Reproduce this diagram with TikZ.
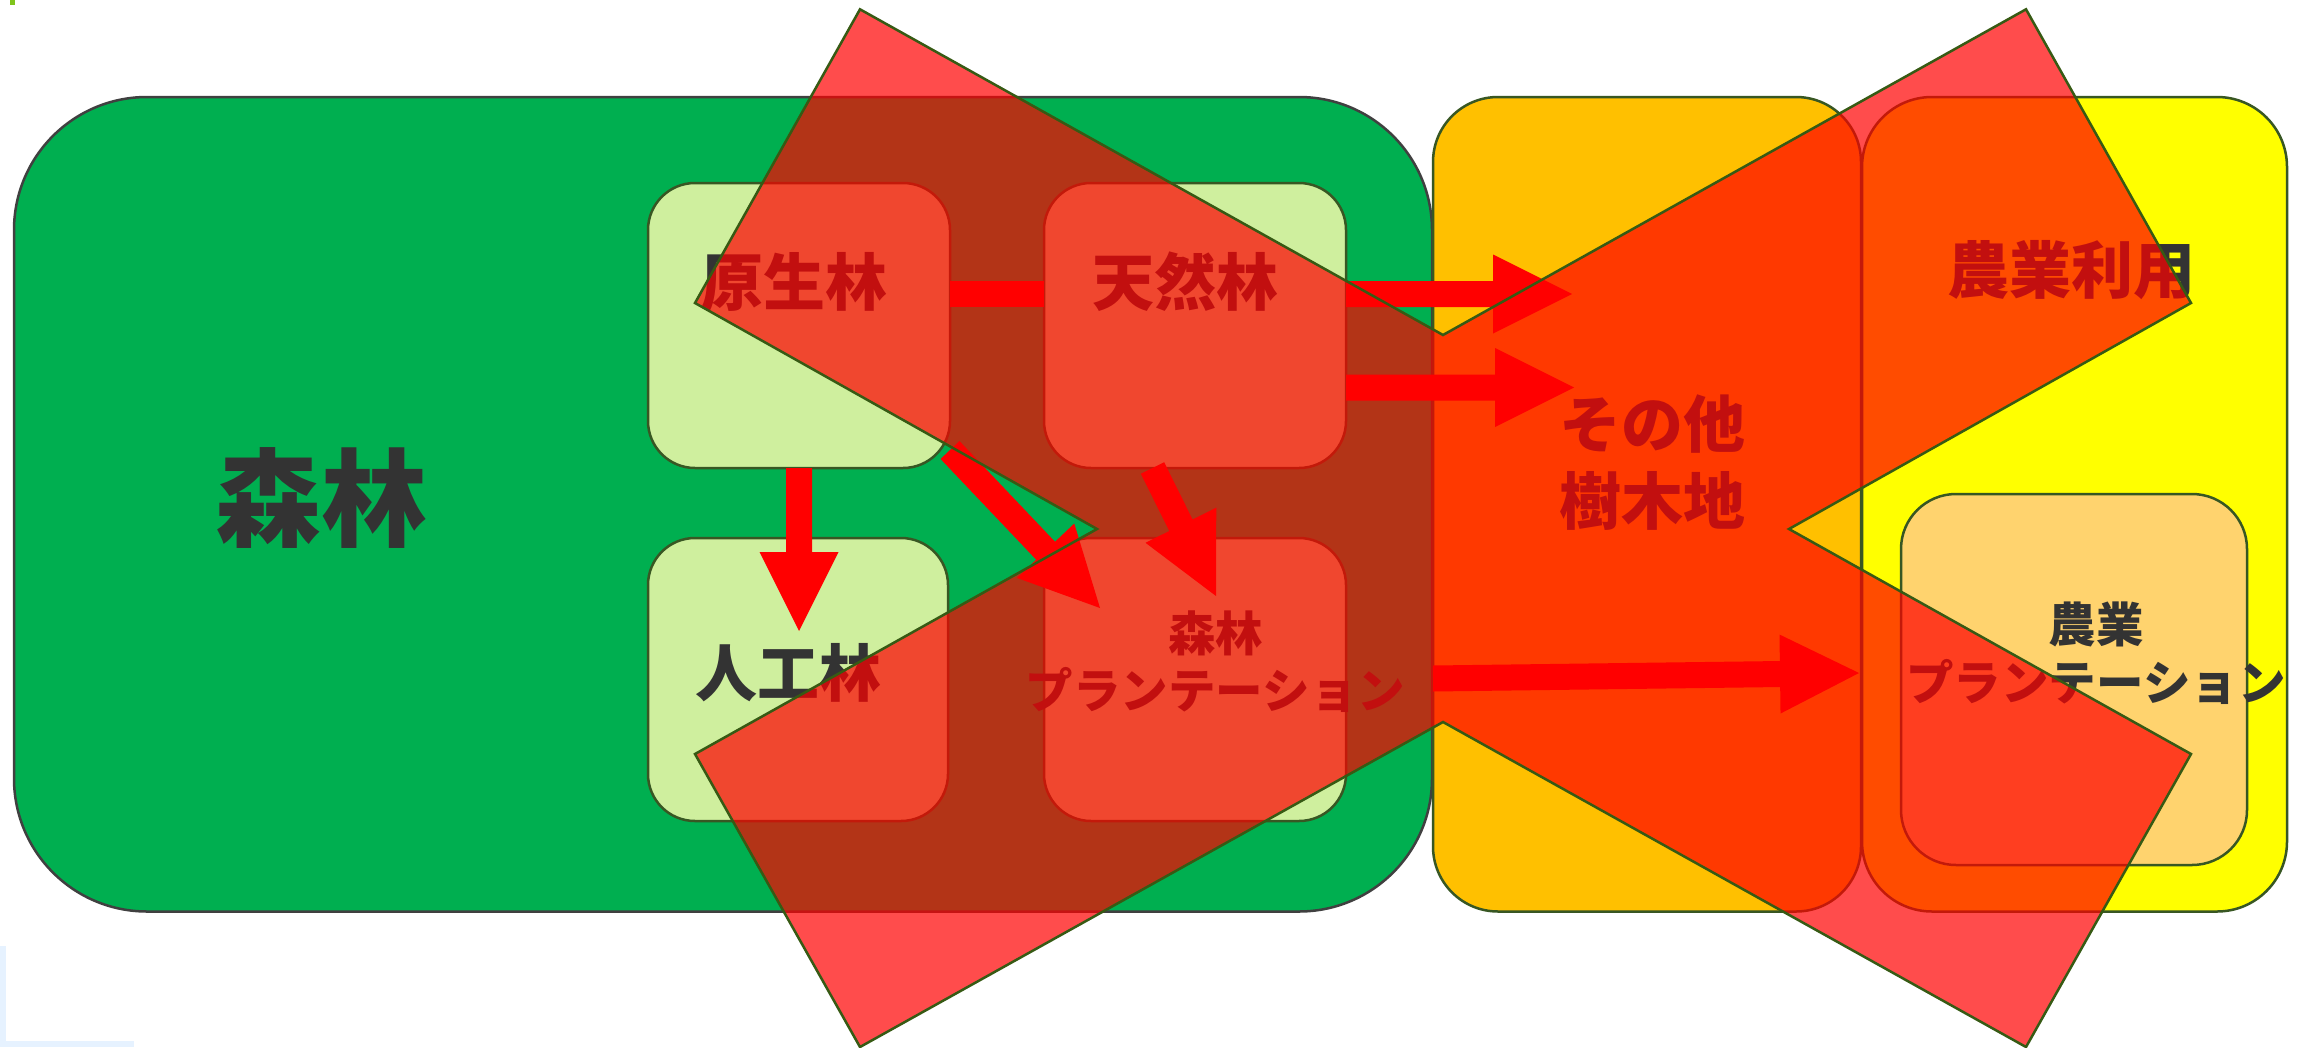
\documentclass[tikz,border=0pt]{standalone}
\usepackage{fontspec}
\usetikzlibrary{calc}
\newfontfamily\jp{Noto Sans CJK JP}
\definecolor{forestfill}{HTML}{00AF50}
\definecolor{forestline}{HTML}{404040}
\definecolor{lightgreen}{HTML}{CFEF9E}
\definecolor{boxline}{HTML}{385723}
\definecolor{otherfill}{HTML}{FFC000}
\definecolor{agrifill}{HTML}{FFFF00}
\definecolor{aplantfill}{HTML}{FFD36E}
\definecolor{txt}{HTML}{333333}
\definecolor{arrowred}{HTML}{FF0000}
\definecolor{xline}{HTML}{375A14}
\definecolor{markgreen}{HTML}{80C41C}
\definecolor{lightblue}{HTML}{E6F2FF}
\tikzset{
  boxbase/.style={draw=boxline, line width=2.5pt, inner sep=0pt, outer sep=0pt},
  bigbox/.style={boxbase, draw=forestline, fill=forestfill, rounded corners=133pt},
  smallbox/.style={boxbase, fill=lightgreen, rounded corners=47pt, minimum width=302pt, minimum height=285pt},
  lbl/.style={text=txt, inner sep=0pt, align=center, font=\jp\bfseries\fontsize{62pt}{77pt}\selectfont},
  lblsmall/.style={lbl, font=\jp\bfseries\fontsize{47.5pt}{57pt}\selectfont},
  barline/.style={draw=arrowred, line width=26pt},
  xmark/.style={fill=arrowred, fill opacity=0.7, draw=xline, line width=2.5pt, line join=miter}
}
\newcommand{\blockarrow}[2]{%
  \coordinate (#1#2b) at ($(#2)!79pt!(#1)$);
  \fill[arrowred] ($(#1)!13pt!90:(#2)$) -- ($(#1#2b)!13pt!-90:(#1)$)
    -- ($(#1#2b)!39.5pt!-90:(#1)$) -- (#2) -- ($(#1#2b)!39.5pt!90:(#1)$)
    -- ($(#1#2b)!13pt!90:(#1)$) -- ($(#1)!13pt!-90:(#2)$) -- cycle;
}
\begin{document}
\begin{tikzpicture}[x=1pt,y=-1pt]
\useasboundingbox (0,0) rectangle (2300,1047);
\fill[white] (0,0) rectangle (2300,1047);
% stray marks at the edges
\fill[markgreen] (10,0) rectangle (15,5);
\fill[lightblue] (0,946) rectangle (6,1047);
\fill[lightblue] (0,1041) rectangle (134,1047);

% main regions
\node[bigbox, minimum width=1418pt, minimum height=814.5pt] (forest) at (723,504.25) {};
\node[lbl, font=\jp\bfseries\fontsize{106pt}{120pt}\selectfont] (t-forest) at (321,498) {森林};
\node[boxbase, fill=otherfill, rounded corners=65pt, minimum width=428pt, minimum height=814.5pt] (otherwood) at (1647,504.25) {};
\node[boxbase, fill=agrifill, rounded corners=70pt, minimum width=425pt, minimum height=814.5pt] (agri) at (2074.5,504.25) {};
\node[boxbase, fill=aplantfill, rounded corners=55pt, minimum width=346pt, minimum height=371pt] (aplant) at (2074,679.5) {};

% forest sub-boxes
\node[smallbox] (primary) at (799,325.5) {};
\node[smallbox] (natural) at (1195,325.5) {};
\node[smallbox, minimum width=300pt, minimum height=283pt] (planted) at (798,679.5) {};
\node[smallbox, minimum height=283pt] (fplant) at (1195,679.5) {};

% labels
\node[lbl] (t-primary) at (794,282) {原生林};
\node[lbl] (t-natural) at (1185.5,282) {天然林};
\node[lbl] (t-planted) at (788,672.5) {人工林};
\node[lblsmall] (t-fplant) at (1215.5,662) {森林\\プランテーション};
\node[lbl] (t-other) at (1652,462.5) {その他\\樹木地};
\node[lbl] (t-agri) at (2071,270) {農業利用};
\node[lblsmall, font=\jp\bfseries\fontsize{47.5pt}{58pt}\selectfont] (t-aplant) at (2096,653) {農業\\プランテーション};

% connector end points
\coordinate (a1s) at ([yshift=31.5pt]primary.east);
\coordinate (a1e) at ([yshift=31.5pt]natural.west);
\coordinate (a2s) at ([yshift=31.5pt]natural.east);
\coordinate (a2e) at (1572,294);
\coordinate (a3s) at ([yshift=-62pt]natural.east);
\coordinate (a3e) at (1574,387.5);
\coordinate (a4s) at (primary.south);
\coordinate (a4e) at (799,631);
\coordinate (a5s) at ([yshift=18pt]primary.south east);
\coordinate (a5e) at (1100,608);
\coordinate (a6s) at ([xshift=-42.5pt]natural.south);
\coordinate (a6e) at (1216,596);
\coordinate (a7s) at ([yshift=-174.25pt]otherwood.west);
\coordinate (a7e) at (1859,673);

% arrows
\draw[barline] (a1s) -- (a1e);
\blockarrow{a2s}{a2e}
\blockarrow{a3s}{a3e}
\blockarrow{a4s}{a4e}
\blockarrow{a5s}{a5e}
\blockarrow{a6s}{a6e}
\blockarrow{a7s}{a7e}

% big cross over everything
\filldraw[xmark] (860,9.3) -- (1443,335) -- (2026,9.3) -- (2191,303) -- (1789,529)
  -- (2191,754) -- (2026,1047) -- (1443,722) -- (860,1047) -- (695,754)
  -- (1097,529) -- (695,303) -- cycle;
\end{tikzpicture}
\end{document}
